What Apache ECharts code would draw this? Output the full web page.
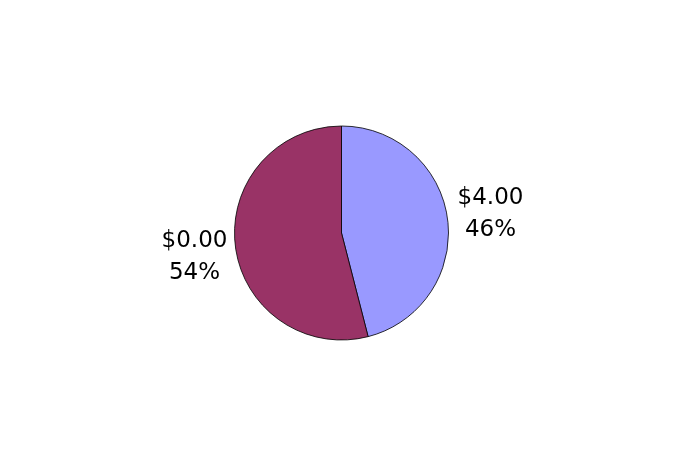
<!DOCTYPE html>
<html>
<head>
<meta charset="utf-8">
<script src="https://cdn.jsdelivr.net/npm/echarts@6/dist/echarts.min.js"></script>
<style>
  html, body { margin: 0; padding: 0; background: #fff; }
  #chart { width: 683px; height: 467px; }
</style>
</head>
<body>
<div id="chart"></div>
<script>
// slice data
var names = ['$4.00', '$0.00'];
var shares = [46, 54];
var colors = ['#9999FF', '#993366'];
// small label nudges (px) to sit where the original labels are
var labelShift = [[-3, -5], [5, 10]];

var myChart = echarts.init(document.getElementById('chart'));

var option = {
    backgroundColor: '#ffffff',
    animation: false,
    series: [
        {
            type: 'pie',
            center: [341.5, 233],
            radius: 107,
            startAngle: 90,
            clockwise: true,
            data: names.map(function (n, i) {
                return {
                    name: n,
                    value: shares[i],
                    itemStyle: { color: colors[i] },
                    label: { offset: labelShift[i] }
                };
            }),
            itemStyle: {
                borderColor: '#000000',
                borderWidth: 0.8
            },
            label: {
                show: true,
                position: 'outside',
                formatter: '{c|{b}}\n{c|{d}%}',
                color: '#000000',
                rich: {
                    c: {
                        fontFamily: 'DejaVu Sans',
                        fontSize: 23,
                        lineHeight: 32,
                        color: '#000000',
                        align: 'center'
                    }
                }
            },
            labelLine: { show: false, length: 8, length2: 0 },
            emphasis: { disabled: true }
        }
    ]
};

myChart.setOption(option);
</script>
</body>
</html>
